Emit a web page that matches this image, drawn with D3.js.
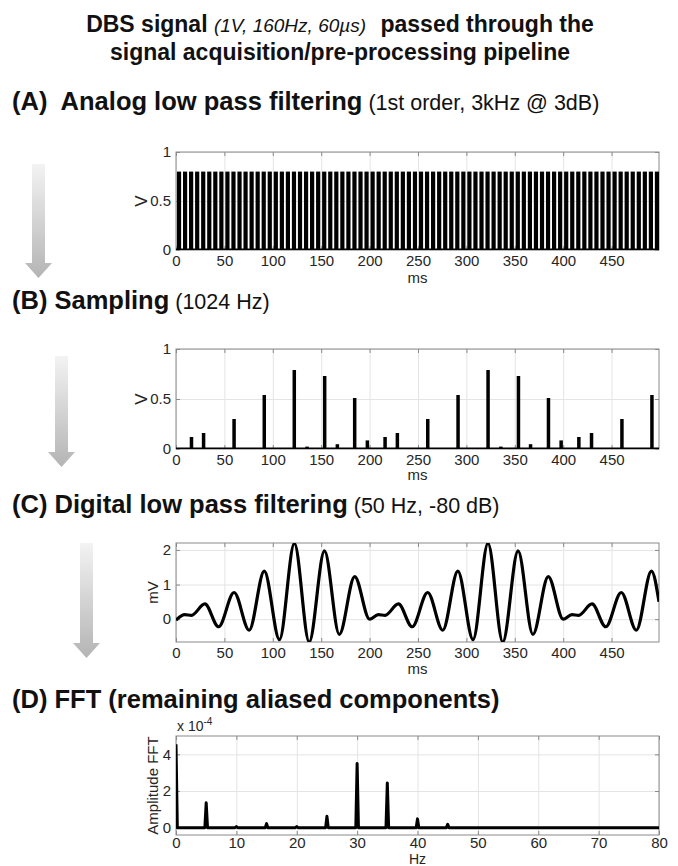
<!DOCTYPE html>
<html>
<head>
<meta charset="utf-8">
<script src="https://cdn.jsdelivr.net/npm/d3@7"></script>
<style>
  html, body { margin: 0; padding: 0; background: #fff; }
  svg { display: block; font-family: "Liberation Sans", Arial, sans-serif; }
</style>
</head>
<body>
<svg id="chart" width="678" height="866"></svg>
<script>
// ---------------- data ----------------
// (A) analog-filtered DBS pulse train: pulse times (ms) and pulse height (V)
const pulseTimes = [
  3.125, 9.375, 15.625, 21.875, 28.125, 34.375, 40.625, 46.875, 53.125, 59.375,
  65.625, 71.875, 78.125, 84.375, 90.625, 96.875, 103.125, 109.375, 115.625, 121.875,
  128.125, 134.375, 140.625, 146.875, 153.125, 159.375, 165.625, 171.875, 178.125, 184.375,
  190.625, 196.875, 203.125, 209.375, 215.625, 221.875, 228.125, 234.375, 240.625, 246.875,
  253.125, 259.375, 265.625, 271.875, 278.125, 284.375, 290.625, 296.875, 303.125, 309.375,
  315.625, 321.875, 328.125, 334.375, 340.625, 346.875, 353.125, 359.375, 365.625, 371.875,
  378.125, 384.375, 390.625, 396.875, 403.125, 409.375, 415.625, 421.875, 428.125, 434.375,
  440.625, 446.875, 453.125, 459.375, 465.625, 471.875, 478.125, 484.375, 490.625, 496.875
];
const pulseHeight = 0.8;

// (B) samples at 1024 Hz that landed on a pulse: time (ms) and value (V)
const sampleTimes = [16, 28.5, 60, 91.2, 106.5, 122.2, 135.4, 153.6, 166.7, 184.6, 197.7, 216, 228.7,
  260.1, 291.4, 306.5, 322.4, 335.6, 353.8, 366.3, 384.8, 397.9, 416.2, 429.3, 460.7, 491.7];
const sampleValues = [0.12, 0.16, 0.30, 0.54, 0.01, 0.79, 0.024, 0.73, 0.048, 0.51, 0.086, 0.12, 0.16,
  0.30, 0.54, 0.01, 0.79, 0.024, 0.73, 0.048, 0.51, 0.086, 0.12, 0.16, 0.30, 0.54];

// (C) digitally low-pass filtered signal: turning points, time (ms) and value (mV)
const filtTimes = [0, 9, 16, 29.8, 44, 60, 75.6, 91.2, 106.9, 122.3, 137.6, 153.4, 168.7, 184.6,
  200, 209, 216, 229.8, 244, 260, 275.6, 291.2, 306.9, 322.3, 337.6, 353.4, 368.7, 384.6,
  400, 409, 416, 429.8, 444, 460, 475.6, 491.2, 499];
const filtValues = [-0.03, 0.13, 0.11, 0.44, -0.22, 0.77, -0.32, 1.39, -0.59, 2.19, -0.66, 1.97, -0.44, 1.23,
  0.0, 0.13, 0.11, 0.44, -0.22, 0.77, -0.32, 1.39, -0.59, 2.19, -0.66, 1.97, -0.44, 1.23,
  0.0, 0.13, 0.11, 0.44, -0.22, 0.77, -0.32, 1.39, 0.5];

// (D) FFT: aliased component frequencies (Hz) and amplitudes
const fftFreqs = [0, 5, 10, 15, 20, 25, 30, 35, 40, 45];
const fftAmps = [4.55e-4, 1.36e-4, 0.06e-4, 0.22e-4, 0.06e-4, 0.62e-4, 3.5e-4, 2.43e-4, 0.48e-4, 0.18e-4];

// tick values
const msTicks = [0, 50, 100, 150, 200, 250, 300, 350, 400, 450];
const voltTicks = [0, 0.5, 1];
const mvTicks = [0, 1, 2];
const hzTicks = [0, 10, 20, 30, 40, 50, 60, 70, 80];
const fftTicks = [0, 2e-4, 4e-4];

// ---------------- layout ----------------
const svg = d3.select("#chart");
const plotLeft = 176, plotRight = 659;
const boxColor = "#8a8a8a", gridColor = "#e4e4e4", textColor = "#262626";
const tickFont = "15px";

const defs = svg.append("defs");

function panel(cfg) {
  const x = d3.scaleLinear().domain(cfg.xDomain).range([plotLeft, plotRight]);
  const y = d3.scaleLinear().domain(cfg.yDomain).range([cfg.bottom, cfg.top]);
  const h = cfg.bottom - cfg.top, w = plotRight - plotLeft;
  const g = svg.append("g");

  // grid
  g.append("g").attr("transform", `translate(0,${cfg.bottom})`)
    .call(d3.axisBottom(x).tickValues(cfg.xTicks).tickSize(-h).tickFormat(""))
    .call(s => s.select(".domain").remove())
    .call(s => s.selectAll("line").attr("stroke", gridColor));
  g.append("g").attr("transform", `translate(${plotLeft},0)`)
    .call(d3.axisLeft(y).tickValues(cfg.yTicks).tickSize(-w).tickFormat(""))
    .call(s => s.select(".domain").remove())
    .call(s => s.selectAll("line").attr("stroke", gridColor));

  // box
  g.append("rect").attr("x", plotLeft).attr("y", cfg.top).attr("width", w).attr("height", h)
    .attr("fill", "none").attr("stroke", boxColor).attr("stroke-width", 1);

  // inward ticks on all four sides, labels on bottom and left
  const tk = 4;
  const bottomAx = g.append("g").attr("transform", `translate(0,${cfg.bottom})`)
    .call(d3.axisBottom(x).tickValues(cfg.xTicks).tickSize(-tk).tickPadding(cfg.xPad).tickFormat(d3.format("")));
  const topAx = g.append("g").attr("transform", `translate(0,${cfg.top})`)
    .call(d3.axisTop(x).tickValues(cfg.xTicks).tickSize(-tk).tickFormat(""));
  const leftAx = g.append("g").attr("transform", `translate(${plotLeft},0)`)
    .call(d3.axisLeft(y).tickValues(cfg.yTicks).tickSize(-tk).tickPadding(5).tickFormat(cfg.yFormat));
  const rightAx = g.append("g").attr("transform", `translate(${plotRight},0)`)
    .call(d3.axisRight(y).tickValues(cfg.yTicks).tickSize(-tk).tickFormat(""));
  [bottomAx, topAx, leftAx, rightAx].forEach(a => {
    a.select(".domain").remove();
    a.selectAll("line").attr("stroke", boxColor);
    a.selectAll("text").attr("fill", textColor).style("font-size", tickFont)
      .style("font-family", '"Liberation Sans", Arial, sans-serif');
  });

  // axis titles
  g.append("text").attr("x", (plotLeft + plotRight) / 2).attr("y", cfg.bottom + cfg.xLabelGap)
    .attr("text-anchor", "middle").attr("fill", textColor).style("font-size", cfg.xLabelSize).text(cfg.xLabel);
  g.append("text").attr("transform", `translate(${cfg.yLabelX},${(cfg.top + cfg.bottom) / 2}) rotate(-90)`)
    .attr("text-anchor", "middle").attr("fill", textColor).style("font-size", cfg.yLabelSize).text(cfg.yLabel);

  // clip for the data
  const id = "clip" + cfg.name;
  defs.append("clipPath").attr("id", id).append("rect")
    .attr("x", plotLeft).attr("y", cfg.top).attr("width", w).attr("height", h);
  const data = g.append("g").attr("clip-path", `url(#${id})`);
  return { x, y, data, g };
}

// ---------------- titles ----------------
const title = svg.append("text").attr("x", 340).attr("y", 32).attr("text-anchor", "middle")
  .attr("fill", "#111").style("font-size", "23px");
title.append("tspan").style("font-weight", "bold").text("DBS signal ");
title.append("tspan").style("font-style", "italic").style("font-size", "19px").text("(1V, 160Hz, 60µs)");
title.append("tspan").style("font-weight", "bold").attr("dx", 8).text(" passed through the");
svg.append("text").attr("x", 340).attr("y", 60).attr("text-anchor", "middle")
  .attr("fill", "#111").style("font-size", "23px").style("font-weight", "bold")
  .text("signal acquisition/pre-processing pipeline");

function heading(yPos, bold, normal) {
  const t = svg.append("text").attr("x", 12).attr("y", yPos).attr("fill", "#111");
  t.append("tspan").style("font-weight", "bold").style("font-size", "25.5px").text(bold);
  if (normal) t.append("tspan").style("font-size", "21.5px").text(" " + normal);
}
heading(110, "(A)\u00a0 Analog low pass filtering", "(1st order, 3kHz @ 3dB)");
heading(309, "(B) Sampling", "(1024 Hz)");
heading(513, "(C) Digital low pass filtering", "(50 Hz, -80 dB)");
heading(708, "(D) FFT (remaining aliased components)", null);

// ---------------- arrows ----------------
const grad = defs.append("linearGradient").attr("id", "arrowGrad")
  .attr("x1", 0).attr("y1", 0).attr("x2", 0).attr("y2", 1);
grad.append("stop").attr("offset", "0%").attr("stop-color", "#f3f3f3");
grad.append("stop").attr("offset", "100%").attr("stop-color", "#b4b4b4");
function arrow(cx, top, headTop, tip) {
  const sw = 6.5, hw = 13.5;
  const p = d3.path();
  p.moveTo(cx - sw, top); p.lineTo(cx + sw, top); p.lineTo(cx + sw, headTop);
  p.lineTo(cx + hw, headTop); p.lineTo(cx, tip); p.lineTo(cx - hw, headTop);
  p.lineTo(cx - sw, headTop); p.closePath();
  svg.append("path").attr("d", p.toString()).attr("fill", "url(#arrowGrad)");
}
arrow(38.5, 164, 263, 278);
arrow(61.5, 356, 452, 467);
arrow(86.5, 543, 643, 658);

// ---------------- panel A ----------------
const pA = panel({ name: "A", top: 152, bottom: 250, xDomain: [0, 499], yDomain: [0, 1],
  xTicks: msTicks, yTicks: voltTicks, yFormat: d3.format(""), xPad: 5,
  xLabel: "ms", xLabelGap: 33, xLabelSize: "15px", yLabel: "V", yLabelX: 147, yLabelSize: "17px" });
pA.data.append("line").attr("x1", pA.x(0)).attr("x2", pA.x(499)).attr("y1", pA.y(0)).attr("y2", pA.y(0))
  .attr("stroke", "#000").attr("stroke-width", 3);
pA.data.selectAll("line.pulse").data(pulseTimes).join("line").attr("class", "pulse")
  .attr("x1", d => pA.x(d)).attr("x2", d => pA.x(d))
  .attr("y1", pA.y(0)).attr("y2", pA.y(pulseHeight))
  .attr("stroke", "#000").attr("stroke-width", 4.2);

// ---------------- panel B ----------------
const pB = panel({ name: "B", top: 349, bottom: 449, xDomain: [0, 499], yDomain: [0, 1],
  xTicks: msTicks, yTicks: voltTicks, yFormat: d3.format(""), xPad: 5,
  xLabel: "ms", xLabelGap: 31, xLabelSize: "15px", yLabel: "V", yLabelX: 147, yLabelSize: "17px" });
pB.data.append("line").attr("x1", pB.x(0)).attr("x2", pB.x(499)).attr("y1", pB.y(0)).attr("y2", pB.y(0))
  .attr("stroke", "#000").attr("stroke-width", 3);
pB.data.selectAll("line.sample").data(sampleTimes).join("line").attr("class", "sample")
  .attr("x1", d => pB.x(d)).attr("x2", d => pB.x(d))
  .attr("y1", pB.y(0)).attr("y2", (d, i) => pB.y(sampleValues[i]))
  .attr("stroke", "#000").attr("stroke-width", 3.5);

// ---------------- panel C ----------------
const pC = panel({ name: "C", top: 543, bottom: 642, xDomain: [0, 499], yDomain: [-0.66, 2.2],
  xTicks: msTicks, yTicks: mvTicks, yFormat: d3.format(""), xPad: 5,
  xLabel: "ms", xLabelGap: 32, xLabelSize: "15px", yLabel: "mV", yLabelX: 158, yLabelSize: "15px" });
const filtLine = d3.line().x(d => pC.x(d[0])).y(d => pC.y(d[1])).curve(d3.curveMonotoneX);
pC.data.append("path").attr("d", filtLine(filtTimes.map((t, i) => [t, filtValues[i]])))
  .attr("fill", "none").attr("stroke", "#000").attr("stroke-width", 3.2).attr("stroke-linejoin", "round");

// ---------------- panel D ----------------
const pD = panel({ name: "D", top: 736, bottom: 835, xDomain: [0, 80], yDomain: [-0.4e-4, 5e-4],
  xTicks: hzTicks, yTicks: fftTicks, yFormat: d => d3.format("")(Math.round(d / 1e-4)), xPad: 2,
  xLabel: "Hz", xLabelGap: 29, xLabelSize: "14px", yLabel: "Amplitude FFT", yLabelX: 158, yLabelSize: "15px" });
const lineHalfWidth = 0.22; // Hz, half base width of each spectral line
const spec = [[fftFreqs[0], fftAmps[0]], [fftFreqs[0] + lineHalfWidth, 0]];
fftFreqs.forEach((f, i) => {
  if (i === 0) return;
  spec.push([f - lineHalfWidth, 0], [f, fftAmps[i]], [f + lineHalfWidth, 0]);
});
spec.push([80, 0]);
pD.data.append("path").attr("d", d3.line().x(d => pD.x(d[0])).y(d => pD.y(d[1]))(spec))
  .attr("fill", "none").attr("stroke", "#000").attr("stroke-width", 3).attr("stroke-linejoin", "round");

// exponent label for the FFT axis
const expo = svg.append("text").attr("x", 177).attr("y", 731).attr("fill", textColor).style("font-size", "14px");
expo.append("tspan").text("x 10");
expo.append("tspan").attr("dy", -6).style("font-size", "10px").text("-4");
</script>
</body>
</html>
